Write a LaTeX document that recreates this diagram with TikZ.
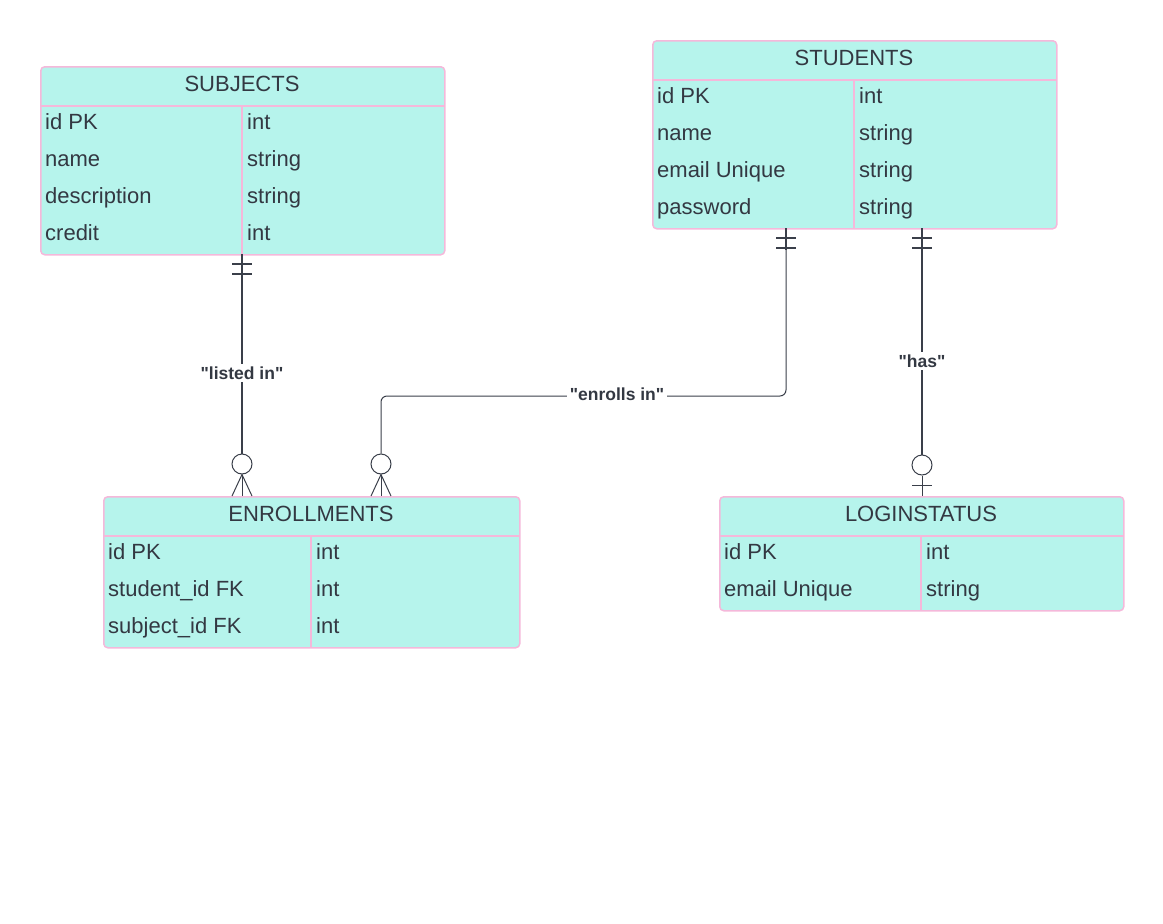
\documentclass[tikz,border=0pt]{standalone}
\usepackage{fontspec}
\setmainfont{Liberation Sans}[Ligatures=TeXOff]
\definecolor{tealf}{HTML}{B6F4EC}
\definecolor{pinkb}{HTML}{F5B8DA}
\definecolor{txtc}{HTML}{333842}
\definecolor{linec}{HTML}{3A3F4A}
\tikzset{
  tbl/.style={draw=pinkb, fill=tealf, line width=1.5pt, rounded corners=4pt, inner sep=0pt, anchor=north west},
  sep/.style={draw=pinkb, line width=1.5pt},
  txt/.style={anchor=base west, font=\fontsize{22}{26}\selectfont, text=txtc, inner sep=0pt},
  hdr/.style={anchor=base, font=\fontsize{22}{26}\selectfont, text=txtc, inner sep=0pt},
  lbl/.style={fill=white, font=\bfseries\fontsize{17.5}{20}\selectfont, text=txtc, inner sep=2.5pt},
  conn/.style={draw=linec, line width=1.6pt},
  thin/.style={draw=linec, line width=1pt},
  ring/.style={circle, draw=linec, line width=1pt, fill=white, minimum size=20pt, inner sep=0pt}
}
\begin{document}
\begin{tikzpicture}[x=1pt,y=-1pt]
\useasboundingbox (0,0) rectangle (1163,924);

% SUBJECTS
\node[tbl, minimum width=404pt, minimum height=188pt] (subj) at (40,66) {};
\draw[sep] (40,106) -- (444,106);
\draw[sep] (242,106) -- (242,254);
\node[hdr] (subjh) at (242,91) {SUBJECTS};
\node[txt] (s1a) at (45,129) {id PK};        \node[txt] (s1b) at (247,129) {int};
\node[txt] (s2a) at (45,166) {name};         \node[txt] (s2b) at (247,166) {string};
\node[txt] (s3a) at (45,203) {description};  \node[txt] (s3b) at (247,203) {string};
\node[txt] (s4a) at (45,240) {credit};       \node[txt] (s4b) at (247,240) {int};

% STUDENTS
\node[tbl, minimum width=404pt, minimum height=188pt] (stud) at (652,40) {};
\draw[sep] (652,80) -- (1056,80);
\draw[sep] (854,80) -- (854,228);
\node[hdr] (studh) at (854,65) {STUDENTS};
\node[txt] (t1a) at (657,103) {id PK};        \node[txt] (t1b) at (859,103) {int};
\node[txt] (t2a) at (657,140) {name};         \node[txt] (t2b) at (859,140) {string};
\node[txt] (t3a) at (657,177) {email Unique}; \node[txt] (t3b) at (859,177) {string};
\node[txt] (t4a) at (657,214) {password};     \node[txt] (t4b) at (859,214) {string};

% ENROLLMENTS
\node[tbl, minimum width=416pt, minimum height=151pt] (enr) at (103,496) {};
\draw[sep] (103,536) -- (519,536);
\draw[sep] (311,536) -- (311,647);
\node[hdr] (enrh) at (311,521) {ENROLLMENTS};
\node[txt] (e1a) at (108,559) {id PK};          \node[txt] (e1b) at (316,559) {int};
\node[txt] (e2a) at (108,596) {student\_id FK}; \node[txt] (e2b) at (316,596) {int};
\node[txt] (e3a) at (108,633) {subject\_id FK}; \node[txt] (e3b) at (316,633) {int};

% LOGINSTATUS
\node[tbl, minimum width=404pt, minimum height=114pt] (log) at (719,496) {};
\draw[sep] (719,536) -- (1123,536);
\draw[sep] (921,536) -- (921,610);
\node[hdr] (logh) at (921,521) {LOGINSTATUS};
\node[txt] (l1a) at (724,559) {id PK};        \node[txt] (l1b) at (926,559) {int};
\node[txt] (l2a) at (724,596) {email Unique}; \node[txt] (l2b) at (926,596) {string};

% connector points
\coordinate (a0) at (242,254);
\coordinate (a1) at (242,496);
\coordinate (b0) at (786,228);
\coordinate (b1) at (381,496);
\coordinate (c0) at (922,228);
\coordinate (c1) at (922,496);

% listed in
\node[ring] (ra) at (242,464) {};
\draw[conn] (a0) -- (ra.north);
\draw[conn] (232,264) -- (252,264);
\draw[conn] (232,274) -- (252,274);
\draw[thin] (232,496) -- (ra.south) -- (252,496);
\draw[thin] (ra.south) -- (a1);
\node[lbl] (la) at (242,373) {"listed in"};

% enrolls in
\node[ring] (rb) at (381,464) {};
\draw[thin, rounded corners=6pt] (b0) -- (786,396) -- (381,396) -- (rb.north);
\draw[conn] (776,238) -- (796,238);
\draw[conn] (776,248) -- (796,248);
\draw[conn] (b0) -- (786,250);
\draw[thin] (371,496) -- (rb.south) -- (391,496);
\draw[thin] (rb.south) -- (b1);
\node[lbl] (lb) at (617,394) {"enrolls in"};

% has
\node[ring] (rc) at (922,465) {};
\draw[conn] (c0) -- (rc.north);
\draw[conn] (912,238) -- (932,238);
\draw[conn] (912,248) -- (932,248);
\draw[thin] (rc.south) -- (c1);
\draw[thin] (912,485) -- (932,485);
\node[lbl] (lc) at (922,361) {"has"};
\end{tikzpicture}
\end{document}
